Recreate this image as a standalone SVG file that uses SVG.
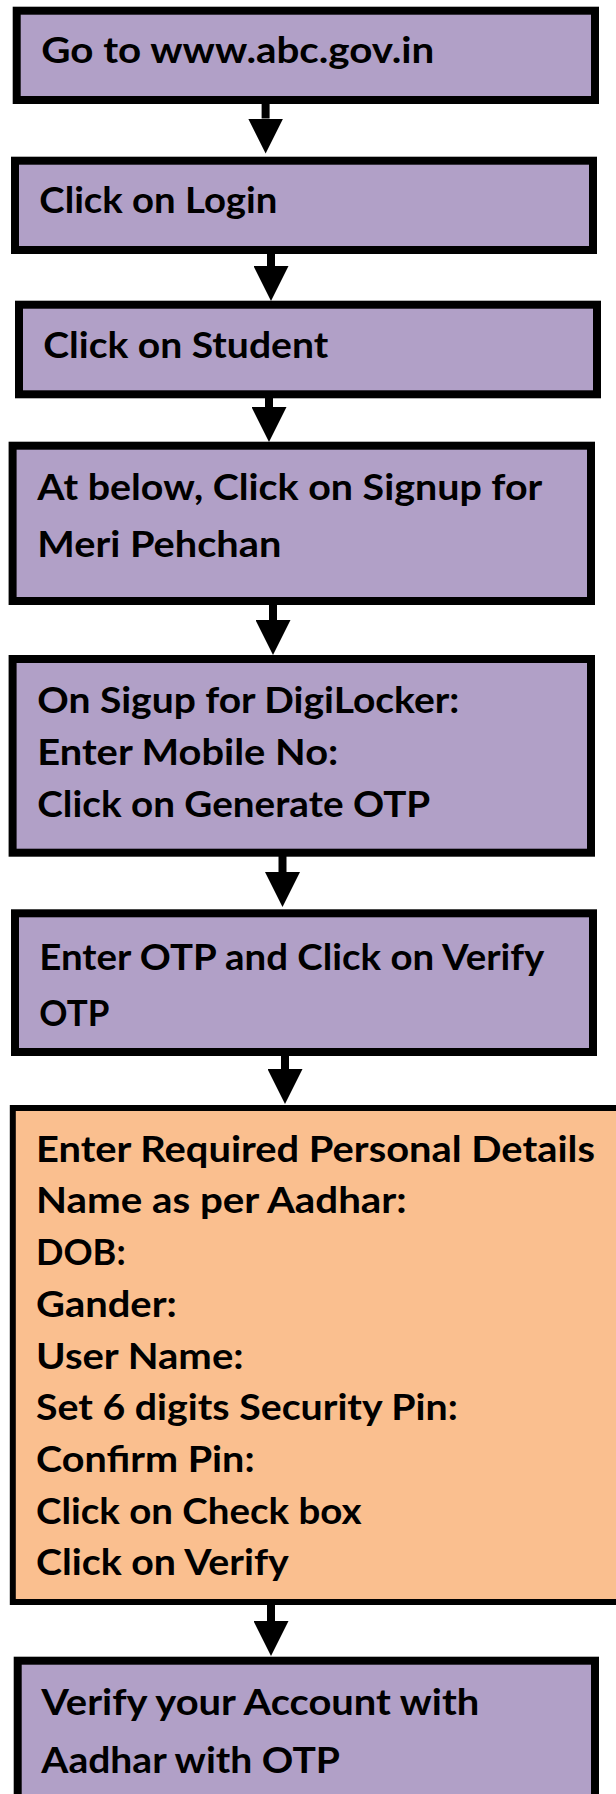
<svg xmlns="http://www.w3.org/2000/svg" width="616" height="1794" viewBox="0 0 616 1794">
  <defs>
    <style>
      .box { fill: #B1A0C7; stroke: #000; stroke-width: 8; }
      .box-o { fill: #FABF8F; stroke: #000; stroke-width: 6; }
      .t { font-family: Lato, "Open Sans", "Liberation Sans", sans-serif; font-weight: bold; font-size: 37px; fill: #000; }
      .conn { stroke: #000; stroke-width: 8; fill: none; marker-end: url(#arrow); }
    </style>
    <marker id="arrow" viewBox="0 0 35 35" markerWidth="35" markerHeight="35" refX="0" refY="17.5" orient="auto" markerUnits="userSpaceOnUse">
      <path d="M0,0 L35,17.5 L0,35 Z" fill="#000"/>
    </marker>
  </defs>
  <rect width="616" height="1794" fill="#fff"/>

  <g id="connectors">
    <line class="conn" x1="265.6" y1="104" x2="265.6" y2="118.5"/>
    <line class="conn" x1="271" y1="254" x2="271" y2="266"/>
    <line class="conn" x1="269" y1="398" x2="269" y2="407"/>
    <line class="conn" x1="273" y1="605" x2="273" y2="620"/>
    <line class="conn" x1="282.5" y1="856" x2="282.5" y2="872"/>
    <line class="conn" x1="285" y1="1056" x2="285" y2="1069"/>
    <line class="conn" x1="271" y1="1605" x2="271" y2="1621"/>
  </g>

  <g id="node1">
    <rect class="box" x="16.7" y="10.7" width="578.3" height="89.3"/>
    <text class="t" x="41.3" y="63.3" textLength="393" lengthAdjust="spacingAndGlyphs">Go to www.abc.gov.in</text>
  </g>
  <g id="node2">
    <rect class="box" x="15" y="160.7" width="578" height="89.3"/>
    <text class="t" x="39.3" y="213" textLength="238" lengthAdjust="spacingAndGlyphs">Click on Login</text>
  </g>
  <g id="node3">
    <rect class="box" x="19" y="304.7" width="578" height="89.6"/>
    <text class="t" x="43.2" y="358.3" textLength="285" lengthAdjust="spacingAndGlyphs">Click on Student</text>
  </g>
  <g id="node4">
    <rect class="box" x="12.6" y="445.7" width="578.4" height="155.3"/>
    <text class="t" x="37.3" y="500" textLength="505" lengthAdjust="spacingAndGlyphs">At below, Click on Signup for</text>
    <text class="t" x="37.3" y="556.7" textLength="244" lengthAdjust="spacingAndGlyphs">Meri Pehchan</text>
  </g>
  <g id="node5">
    <rect class="box" x="12.6" y="659" width="578.4" height="193.7"/>
    <text class="t" x="37.3" y="713.3" textLength="422" lengthAdjust="spacingAndGlyphs">On Sigup for DigiLocker:</text>
    <text class="t" x="37.3" y="765" textLength="301" lengthAdjust="spacingAndGlyphs">Enter Mobile No:</text>
    <text class="t" x="37.3" y="816.7" textLength="393" lengthAdjust="spacingAndGlyphs">Click on Generate OTP</text>
  </g>
  <g id="node6">
    <rect class="box" x="15" y="913.3" width="578" height="138.7"/>
    <text class="t" x="39.3" y="970" textLength="505" lengthAdjust="spacingAndGlyphs">Enter OTP and Click on Verify</text>
    <text class="t" x="39.3" y="1025.5" textLength="70" lengthAdjust="spacingAndGlyphs">OTP</text>
  </g>
  <g id="node7">
    <rect class="box-o" x="12.8" y="1108" width="620" height="494"/>
    <text class="t" x="36" y="1161.7" textLength="559" lengthAdjust="spacingAndGlyphs">Enter Required Personal Details</text>
    <text class="t" x="36" y="1213.4" textLength="370.7" lengthAdjust="spacingAndGlyphs">Name as per Aadhar:</text>
    <text class="t" x="36" y="1265.1" textLength="89.7" lengthAdjust="spacingAndGlyphs">DOB:</text>
    <text class="t" x="36" y="1316.8" textLength="140.8" lengthAdjust="spacingAndGlyphs">Gander:</text>
    <text class="t" x="36" y="1368.5" textLength="207.6" lengthAdjust="spacingAndGlyphs">User Name:</text>
    <text class="t" x="36" y="1420.2" textLength="421.8" lengthAdjust="spacingAndGlyphs">Set 6 digits Security Pin:</text>
    <text class="t" x="36" y="1471.9" textLength="218.6" lengthAdjust="spacingAndGlyphs">Confirm Pin:</text>
    <text class="t" x="36" y="1523.6" textLength="325.5" lengthAdjust="spacingAndGlyphs">Click on Check box</text>
    <text class="t" x="36" y="1575.3" textLength="252.8" lengthAdjust="spacingAndGlyphs">Click on Verify</text>
  </g>
  <g id="node8">
    <rect class="box" x="17.7" y="1660.7" width="577.3" height="200"/>
    <text class="t" x="41.3" y="1715" textLength="438" lengthAdjust="spacingAndGlyphs">Verify your Account with</text>
    <text class="t" x="41.3" y="1773.3" textLength="298.7" lengthAdjust="spacingAndGlyphs">Aadhar with OTP</text>
  </g>
</svg>
